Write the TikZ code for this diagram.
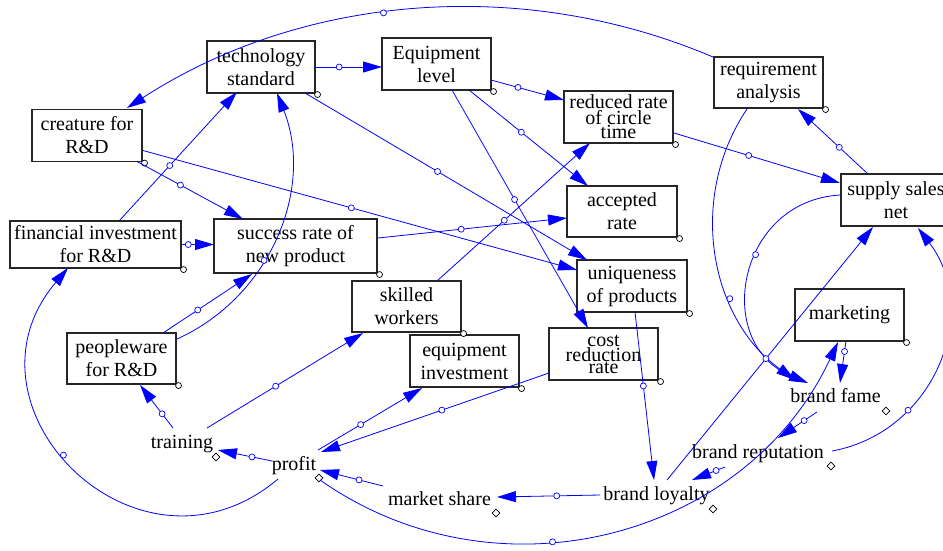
\documentclass[tikz,border=0pt]{standalone}
\usepackage{fontspec}
\setmainfont{Liberation Serif}
\usetikzlibrary{arrows.meta,shapes.geometric}
\newcommand\fsz{\fontsize{20}{23}\selectfont}
\newcommand\fszt{\fontsize{20}{13}\selectfont}
\newcommand\fszc{\fontsize{20}{12}\selectfont}
\begin{document}
\begin{tikzpicture}[x=1pt,y=-1pt,
  box/.style={draw=black!85, line width=1.1pt, minimum width=109pt, minimum height=52pt, align=center, inner sep=0pt, font=\fsz},
  lbl/.style={anchor=base, inner sep=0pt, font=\fsz},
  link/.style={draw=blue, line width=0.8pt, -{Triangle[length=19pt,width=11pt]}},
  mid/.style={circle, draw=blue, fill=white, line width=0.7pt, inner sep=0pt, minimum size=6pt},
  corner/.style={circle, draw=black, fill=white, line width=0.7pt, inner sep=0pt, minimum size=6pt},
  dmd/.style={diamond, draw=black, fill=white, line width=0.7pt, inner sep=0pt, minimum size=8pt}]
\useasboundingbox (0,0) rectangle (943,550);
\clip (0,0) rectangle (943,550);

% boxes
\node[box, minimum width=108pt] (techstd) at (261,67) {technology\\standard};
\node[box] (eqlevel) at (436.5,64) {Equipment\\level};
\node[box, minimum width=110pt] (creature) at (87,135.5) {creature for\\R\&D};
\node[box, minimum width=171pt, minimum height=47pt] (fininv) at (95.5,244.5) {financial investment\\for R\&D};
\node[box, minimum width=163pt, minimum height=54pt] (success) at (295.5,246) {success rate of\\new product};
\node[box, font=\fszt] (reduced) at (618.5,117) {reduced rate\\of circle\\time};
\node[box, minimum height=51pt] (reqanal) at (768.5,82.5) {requirement\\analysis};
\node[box, minimum width=110pt, minimum height=51pt] (accepted) at (622,211.5) {accepted\\rate};
\node[box, minimum width=110pt] (supply) at (896,200) {supply sales\\net};
\node[box, minimum width=110pt] (unique) at (632,286) {uniqueness\\of products};
\node[box, minimum height=51pt] (skilled) at (406.5,306.5) {skilled\\workers};
\node[box] (eqinv) at (464.5,361) {equipment\\investment};
\node[box, font=\fszc] (cost) at (603.5,354) {cost\\reduction\\rate};
\node[box, minimum height=51pt] (people) at (121.5,358.5) {peopleware\\for R\&D};
\node[box] (marketing) at (849.5,315) {marketing};

% plain variables
\node[lbl] (training) at (182,448) {training};
\node[lbl] (profit) at (294,470) {profit};
\node[lbl] (market) at (439.5,505) {market share};
\node[lbl] (loyalty) at (656.5,500) {brand loyalty};
\node[lbl] (reputation) at (758,458) {brand reputation};
\node[lbl] (fame) at (835.5,402) {brand fame};

% corner marks
\foreach \n in {techstd,eqlevel,creature,fininv,success,reduced,reqanal,accepted,unique,skilled,eqinv,cost,people,marketing}
  \node[corner] (\n-c) at ([shift={(2,1)}]\n.south east) {};
\node[dmd] (training-d) at ([shift={(34,9)}]training.base) {};
\node[dmd] (profit-d) at ([shift={(25,8)}]profit.base) {};
\node[dmd] (market-d) at ([shift={(56.5,8)}]market.base) {};
\node[dmd] (loyalty-d) at ([shift={(56.5,9)}]loyalty.base) {};
\node[dmd] (reputation-d) at ([shift={(73,8)}]reputation.base) {};
\node[dmd] (fame-d) at ([shift={(50.5,9)}]fame.base) {};

% connectors
\draw[link] ([shift={(53,0)}]techstd.center) -- node[mid,pos=.37] (m1) {} ([shift={(-54.5,3)}]eqlevel.center);
\draw[link] ([shift={(54.5,16)}]eqlevel.center) -- node[mid,pos=.37] (m2) {} ([shift={(-54.5,-17)}]reduced.center);
\draw[link] ([shift={(32.5,26)}]eqlevel.center) -- node[mid,pos=.44] (m3) {} ([shift={(-34,-25.5)}]accepted.center);
\draw[link] ([shift={(15.5,26)}]eqlevel.center) -- node[mid,pos=.46] (m4) {} ([shift={(-15.5,-26)}]cost.center);
\draw[link] ([shift={(44,26)}]techstd.center) -- node[mid,pos=.47] (m5) {} ([shift={(-45,-26)}]unique.center);
\draw[link] ([shift={(50,26)}]creature.center) -- node[mid,pos=.41] (m6) {} ([shift={(-52.5,-27)}]success.center);
\draw[link] ([shift={(56,15)}]creature.center) -- node[mid,pos=.48] (m7) {} ([shift={(-55,-16)}]unique.center);
\draw[link] ([shift={(85.5,0)}]fininv.center) -- node[mid,pos=.22] (m8) {} ([shift={(-81.5,-1.5)}]success.center);
\draw[link] ([shift={(23.5,-23.5)}]fininv.center) -- node[mid,pos=.43] (m9) {} ([shift={(-24,25)}]techstd.center);
\draw[link] ([shift={(55.5,-19.5)}]people.center) to[bend right=43.6, looseness=.99] node[mid,pos=.405] (m10) {} ([shift={(16,26)}]techstd.center);
\draw[link] ([shift={(41.5,-25.5)}]people.center) -- node[mid,pos=.39] (m11) {} ([shift={(-43.5,28)}]success.center);
\draw[link] ([shift={(-9,-20)}]training.base) -- node[mid,pos=.33] (m12) {} ([shift={(18.5,26.5)}]people.center);
\draw[link] ([shift={(25,-20)}]training.base) -- node[mid,pos=.44] (m13) {} ([shift={(-43.5,26.5)}]skilled.center);
\draw[link] ([shift={(-22,-9)}]profit.base) -- node[mid,pos=.37] (m14) {} ([shift={(36,2)}]training.base);
\draw[link] ([shift={(-16,9)}]profit.base) to[bend left=85.2, looseness=1.571] node[mid,pos=.546] (m15) {} ([shift={(-27.5,23.5)}]fininv.center);
\draw[link] ([shift={(24,-20)}]profit.base) -- node[mid,pos=.41] (m16) {} ([shift={(-42.5,27)}]eqinv.center);
\draw[link] ([shift={(-54.5,19)}]cost.center) -- node[mid,pos=.47] (m17) {} ([shift={(27,-18)}]profit.base);
\draw[link] ([shift={(-56.5,-19)}]market.base) -- node[mid,pos=.38] (m18) {} ([shift={(26,0)}]profit.base);
\draw[link] ([shift={(-56.5,-5)}]loyalty.base) -- node[mid,pos=.42] (m19) {} ([shift={(57.5,-8)}]market.base);
\draw[link] ([shift={(26,10)}]profit.base) to[bend right=50, looseness=1.036] node[mid,pos=.40] (m20) {} ([shift={(-11.5,27)}]marketing.center);
\draw[link] ([shift={(30.5,-25.5)}]skilled.center) -- node[mid,pos=.44] (m21) {} ([shift={(-28.5,26)}]reduced.center);
\draw[link] ([shift={(82.5,-8)}]success.center) -- node[mid,pos=.44] (m22) {} ([shift={(-55,6.5)}]accepted.center);
\draw[link] ([shift={(55.5,16)}]reduced.center) -- node[mid,pos=.45] (m23) {} ([shift={(-56,-17)}]supply.center);
\draw[link] ([shift={(-28,-26)}]supply.center) -- node[mid,pos=.41] (m24) {} ([shift={(29.5,26.5)}]reqanal.center);
\draw[link] ([shift={(-55.5,-25.5)}]reqanal.center) to[bend right=28, looseness=.907] node[mid,pos=.55] (m25) {} ([shift={(40,-27.5)}]creature.center);
\draw[link] ([shift={(-21.5,26.5)}]reqanal.center) to[bend right=44, looseness=.99] node[mid,pos=.656] (m26) {} ([shift={(-40.5,-22)}]fame.base);
\draw[link] ([shift={(-56,-5)}]supply.center) to[bend right=77, looseness=1.39] node[mid,pos=.41] (m27) {} ([shift={(-27.5,-19)}]fame.base);
\draw[link] ([shift={(3,26)}]unique.center) -- node[mid,pos=.44] (m28) {} ([shift={(-2.5,-20)}]loyalty.base);
\draw[link] ([shift={(10.5,-20)}]loyalty.base) -- node[mid,pos=.48] (m29) {} ([shift={(-23,27)}]supply.center);
\draw[link] ([shift={(-3.5,26)}]marketing.center) -- node[mid,pos=.25] (m30) {} ([shift={(4.5,-19)}]fame.base);
\draw[link] ([shift={(-18.5,10)}]fame.base) -- node[mid,pos=.33] (m31) {} ([shift={(20,-20)}]reputation.base);
\draw[link] ([shift={(-33,9)}]reputation.base) -- node[mid,pos=.27] (m32) {} ([shift={(35.5,-20)}]loyalty.base);
\draw[link] ([shift={(74,-7)}]reputation.base) to[bend right=58.5, looseness=1.12] node[mid,pos=.30] (m33) {} ([shift={(22,28)}]supply.center);
\end{tikzpicture}
\end{document}
